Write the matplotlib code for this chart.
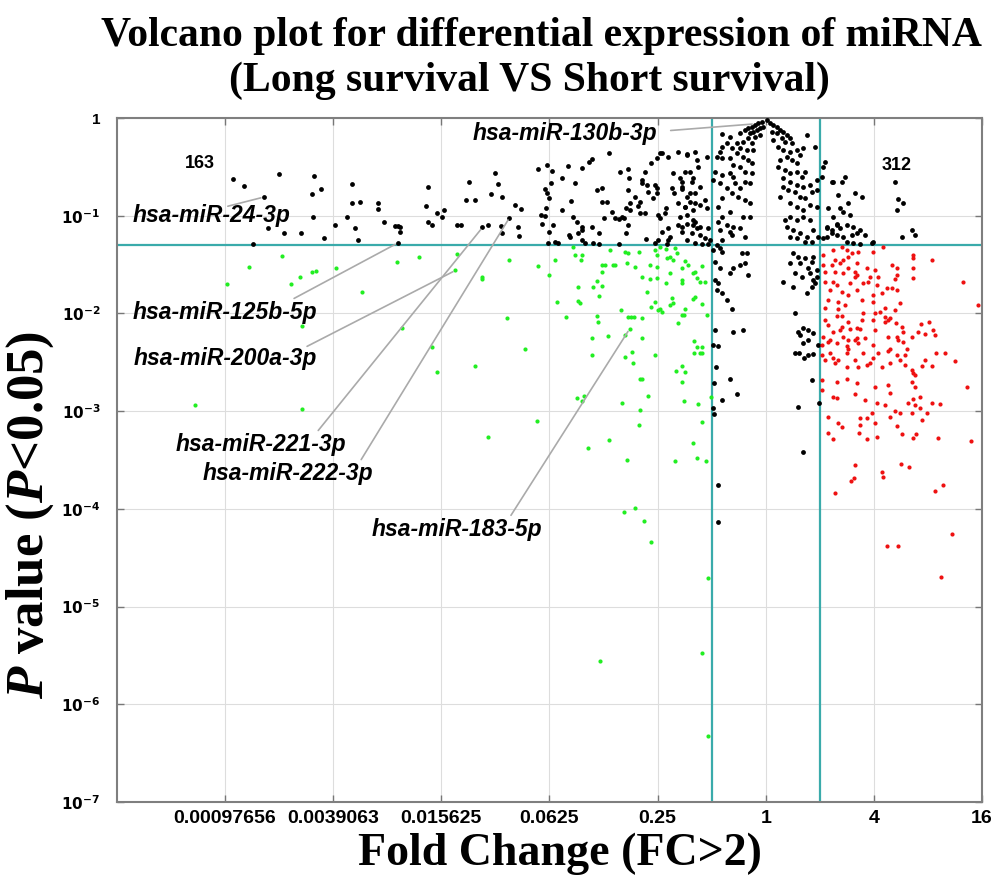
import numpy as np
import matplotlib
matplotlib.use("Agg")
import matplotlib.pyplot as plt

plt.rcParams["mathtext.fontset"] = "custom"
plt.rcParams["mathtext.it"] = "Liberation Serif:bold:italic"
plt.rcParams["mathtext.rm"] = "Liberation Serif:bold"
plt.rcParams["mathtext.bf"] = "Liberation Serif:bold"

# (log2 fold change, log10 p value)
not_significant = np.array([
    (-9.86, -0.62), (-9.66, -0.70), (-9.01, -0.57), (-8.36, -0.59), (-8.23, -0.73), (-8.40, -0.78),
    (-7.66, -0.68), (-7.66, -0.87), (-7.51, -0.86), (-7.18, -0.87), (-7.18, -0.93), (-8.38, -1.01),
    (-7.75, -1.01), (-7.07, -1.06), (-6.86, -1.11), (-6.81, -1.11), (-9.21, -1.13), (-8.92, -1.18),
    (-8.60, -1.18), (-7.96, -1.10), (-7.59, -1.13), (-8.18, -1.23), (-7.55, -1.25), (-9.49, -1.29),
    (-6.81, -1.28), (-9.29, -0.81),
    (-6.77, -1.12), (-6.77, -1.17), (-6.25, -0.71), (-6.29, -0.90), (-6.09, -0.97), (-5.96, -0.94),
    (-5.98, -1.01), (-6.25, -1.06), (-6.18, -1.09), (-5.72, -1.10), (-5.64, -1.10), (-5.49, -0.66),
    (-5.55, -0.84), (-5.38, -0.84), (-5.25, -1.12), (-5.14, -1.09), (-5.09, -0.78), (-5.00, -0.56),
    (-4.96, -0.68), (-4.88, -0.81), (-4.90, -1.11), (-4.88, -1.18), (-4.74, -1.02), (-4.64, -0.89),
    (-4.53, -0.93), (-4.59, -1.12), (-4.57, -1.21), (-4.22, -0.52), (-4.05, -0.48), (-3.96, -0.54),
    (-3.76, -0.61), (-3.66, -0.49), (-3.52, -0.67), (-3.39, -0.51), (-3.27, -0.45), (-3.22, -0.42),
    (-2.90, -0.36), (-4.09, -0.73), (-4.05, -0.77), (-3.98, -0.67), (-4.01, -0.82), (-3.61, -0.85),
    (-4.07, -0.92), (-4.16, -0.99), (-4.09, -1.00), (-4.14, -1.08), (-3.77, -0.94), (-3.94, -1.10),
    (-3.57, -1.01), (-3.50, -1.06), (-3.40, -1.12), (-3.39, -1.15), (-3.22, -1.12), (-4.01, -1.17),
    (-4.03, -1.28), (-3.90, -1.27), (-3.85, -1.28), (-3.63, -1.22), (-3.64, -1.20), (-3.48, -1.18),
    (-3.39, -1.25), (-3.35, -1.28), (-3.20, -1.28), (-3.09, -1.29), (-3.09, -1.18), (-3.13, -0.74),
    (-3.03, -0.72), (-3.03, -0.86), (-2.94, -0.86), (-3.00, -1.02), (-2.85, -0.96), (-2.78, -1.02),
    (-2.72, -1.03), (-2.66, -1.01), (-2.70, -0.55), (-2.55, -0.52), (-2.53, -0.61), (-2.55, -0.74),
    (-2.52, -0.87), (-2.59, -0.92), (-2.52, -0.94), (-2.63, -1.02), (-2.55, -1.10), (-2.59, -1.18),
    (-2.72, -1.29), (-2.41, -0.81), (-2.33, -0.86), (-2.37, -0.90), (-2.24, -0.55), (-2.28, -0.63),
    (-2.29, -0.67), (-2.20, -0.69), (-2.18, -0.76), (-2.24, -0.97), (-2.33, -0.97), (-2.22, -1.24),
    (-2.13, -0.46), (-2.02, -0.41), (-1.96, -0.36), (-2.05, -0.69), (-2.02, -0.72), (-2.02, -0.77),
    (-2.09, -0.82), (-2.00, -0.99), (-1.96, -1.02), (-1.85, -0.92), (-1.87, -0.97), (-1.91, -0.36),
    (-1.81, -0.40), (-1.63, -0.35), (-1.46, -0.37), (-1.31, -0.35), (-1.72, -0.56), (-1.59, -0.61),
    (-1.54, -0.66), (-1.41, -0.55), (-1.37, -0.66), (-1.74, -0.72), (-1.70, -0.77), (-1.54, -0.73),
    (-1.46, -0.81), (-1.31, -0.77), (-1.63, -0.87), (-1.50, -0.91), (-1.41, -0.86), (-1.31, -0.87),
    (-1.59, -1.01), (-1.46, -0.99), (-1.35, -1.04), (-1.63, -1.10), (-1.55, -1.12), (-1.35, -1.10),
    (-1.28, -1.13), (-1.81, -1.13), (-1.92, -1.17), (-1.78, -1.22), (-1.81, -1.25), (-2.00, -1.25),
    (-2.05, -1.28), (-1.83, -1.29),
    (0.02, -0.02), (-0.81, -0.16), (-0.67, -0.19), (-0.48, -0.15), (-0.39, -0.12), (-0.33, -0.10),
    (-0.26, -0.09), (-0.20, -0.07), (-0.15, -0.05), (-0.07, -0.04), (-0.30, -0.15), (-0.24, -0.14),
    (-0.17, -0.12), (-0.11, -0.10), (-0.06, -0.09), (-0.33, -0.20), (-0.20, -0.19), (-0.11, -0.17),
    (-0.26, -0.26), (-0.43, -0.25), (-0.54, -0.26), (-0.72, -0.26), (-0.80, -0.30), (-0.85, -0.35),
    (-0.63, -0.31), (-0.48, -0.31), (-0.35, -0.33), (-0.24, -0.33), (-0.54, -0.36), (-0.43, -0.40),
    (-0.33, -0.43), (-0.26, -0.46), (-0.67, -0.41), (-0.80, -0.41), (-0.91, -0.40), (-0.61, -0.48),
    (-0.48, -0.50), (-0.39, -0.55), (-0.26, -0.56), (-0.80, -0.58), (-0.67, -0.56), (-0.94, -0.55),
    (-0.98, -0.63), (-0.85, -0.67), (-0.61, -0.60), (-0.57, -0.67), (-0.48, -0.72), (-0.39, -0.66),
    (-0.30, -0.67), (-0.72, -0.72), (-0.63, -0.77), (-0.52, -0.81), (-0.39, -0.84), (-0.30, -0.87),
    (-0.80, -0.82), (-0.89, -0.91), (-0.67, -0.96), (-0.43, -1.01), (-0.30, -1.01), (-0.80, -1.01),
    (-0.72, -1.10), (-0.61, -1.12), (-0.48, -1.13), (-0.67, -1.17), (-0.89, -1.06), (-0.85, -1.15),
    (-0.63, -1.20), (-0.39, -1.22), (-0.81, -1.25),
    (0.07, -0.05), (0.13, -0.07), (0.20, -0.09), (0.26, -0.12), (0.31, -0.14), (0.39, -0.17),
    (0.44, -0.20), (0.11, -0.14), (0.20, -0.15), (0.30, -0.20), (0.35, -0.25), (0.48, -0.26),
    (0.13, -0.23), (0.22, -0.30), (0.31, -0.33), (0.44, -0.35), (0.57, -0.33), (0.63, -0.38),
    (0.39, -0.40), (0.48, -0.43), (0.57, -0.46), (0.26, -0.43), (0.22, -0.50), (0.35, -0.53),
    (0.44, -0.56), (0.57, -0.55), (0.67, -0.60), (0.72, -0.55), (0.76, -0.17), (0.91, -0.30),
    (0.68, -0.31), (0.31, -0.61), (0.44, -0.66), (0.57, -0.69), (0.68, -0.71), (0.81, -0.69),
    (0.41, -0.74), (0.54, -0.76), (0.63, -0.81), (0.72, -0.82), (0.85, -0.76), (0.94, -0.63),
    (1.04, -0.60), (1.09, -0.45), (0.31, -0.71), (0.26, -0.81), (0.44, -0.87), (0.57, -0.91),
    (0.68, -0.94), (0.81, -0.89), (0.94, -0.91), (0.35, -1.04), (0.44, -1.01), (0.57, -1.04),
    (0.68, -1.01), (0.81, -1.04), (0.39, -1.12), (0.50, -1.15), (0.63, -1.18), (0.76, -1.22),
    (0.87, -1.15), (0.96, -1.22), (0.44, -1.22), (0.57, -1.23), (0.72, -1.27), (0.85, -1.27),
    (1.05, -1.23), (1.13, -1.13), (1.22, -1.18), (1.31, -1.10), (1.24, -0.66), (1.33, -0.79),
    (1.15, -0.92), (0.94, -0.74),
    (-1.46, -0.38), (-1.28, -0.43), (-1.50, -0.55), (-1.35, -0.61), (-1.26, -0.50), (-1.09, -0.40),
    (-1.54, -0.71), (-1.41, -0.77), (-1.22, -0.71), (-1.13, -0.84), (-1.50, -0.91), (-1.35, -0.94),
    (-1.22, -0.89), (-1.09, -0.92), (-1.46, -1.08), (-1.31, -1.06), (-1.22, -1.12), (-1.07, -1.13),
    (-1.54, -1.17), (-1.37, -1.18), (-1.22, -1.20), (-1.13, -1.23), (-1.04, -1.25), (-1.46, -1.25),
    (-1.31, -1.28), (-1.18, -1.29), (-1.07, -1.29),
    (-0.91, -1.30), (-0.85, -1.33), (-0.98, -1.35), (-0.80, -1.37), (-0.94, -1.47), (-0.85, -1.53),
    (-0.67, -1.59), (-0.61, -1.53), (-0.48, -1.50), (-0.39, -1.48), (-0.33, -1.61), (-0.44, -1.38),
    (-0.35, -1.38), (-0.94, -1.66), (-0.89, -1.69), (-0.80, -1.79), (-0.72, -1.86), (-0.63, -1.95),
    (-0.91, -1.76), (-0.94, -2.17), (-0.61, -2.19), (-0.43, -2.17), (0.50, -1.38), (0.59, -1.42),
    (0.44, -1.48), (0.63, -1.48), (0.72, -1.43), (0.78, -1.53), (0.85, -1.47), (0.87, -1.42),
    (0.54, -1.59), (0.67, -1.63), (0.81, -1.59), (0.87, -1.66), (0.94, -1.63), (0.91, -1.69),
    (0.94, -1.56), (0.31, -1.68), (0.50, -1.73), (0.76, -1.79), (0.85, -1.73), (0.54, -2.00),
    (0.59, -2.19), (0.68, -2.15), (0.78, -2.17), (0.87, -2.20), (0.78, -2.27), (0.63, -2.22),
    (1.05, -0.50), (1.22, -0.66), (1.41, -0.66), (1.46, -0.60), (1.65, -0.77), (1.78, -0.81),
    (1.52, -0.87), (1.37, -0.92), (1.42, -0.96), (1.55, -0.99), (1.24, -1.01), (1.31, -1.08),
    (1.13, -1.12), (1.22, -1.15), (1.37, -1.13), (1.50, -1.10), (1.61, -1.12), (1.74, -1.15),
    (1.31, -1.20), (1.42, -1.22), (1.59, -1.20), (1.68, -1.18), (1.83, -1.20), (1.13, -1.22),
    (1.50, -1.27), (1.61, -1.28), (1.74, -1.29), (1.96, -1.28), (1.98, -1.27), (2.39, -0.66),
    (2.44, -0.83), (2.53, -0.87), (2.42, -0.94), (2.70, -1.15), (2.76, -1.20), (2.52, -1.22),
    (-0.98, -2.32), (-0.89, -2.33), (-0.92, -2.55), (-0.96, -2.71), (-0.67, -2.67), (-0.54, -2.82),
    (-0.80, -2.89), (-0.98, -2.97), (-0.96, -3.03), (0.68, -2.30), (0.54, -2.41), (0.61, -2.40),
    (0.70, -2.46), (0.78, -2.43), (0.87, -2.42), (0.96, -2.32), (0.85, -2.68), (0.98, -2.92),
    (0.59, -2.96), (0.68, -3.42), (-0.89, -3.76), (-0.89, -4.13),
])

down_regulated = np.array([
    (-8.95, -1.41), (-9.56, -1.52), (-9.97, -1.70), (-8.79, -1.70), (-8.62, -1.63), (-8.40, -1.58),
    (-8.31, -1.57), (-7.94, -1.53), (-7.46, -1.78), (-6.83, -1.47), (-8.57, -2.13), (-10.55, -2.94),
    (-8.57, -2.98), (-6.42, -1.42), (-5.72, -1.39), (-5.74, -1.56), (-5.25, -1.63), (-5.24, -1.65),
    (-4.74, -1.45), (-4.22, -1.51), (-4.01, -1.61), (-3.90, -1.45), (-3.87, -1.88), (-3.70, -2.04),
    (-4.79, -2.05), (-6.72, -2.15), (-6.18, -2.34), (-4.46, -2.36), (-6.09, -2.60), (-5.37, -2.54),
    (-4.24, -3.10), (-5.14, -3.26), (-2.63, -4.03), (-2.42, -3.99), (-2.26, -4.12), (-2.13, -4.34),
    (-1.68, -3.51), (-1.11, -3.51), (-1.07, -4.71), (-3.07, -5.56), (-1.18, -5.48), (-1.07, -6.32),
    (-1.02, -2.86),
    (-3.57, -1.32), (-3.52, -1.40), (-3.40, -1.40), (-3.42, -1.45), (-2.89, -1.35), (-2.61, -1.37),
    (-2.55, -1.38), (-2.35, -1.37), (-2.05, -1.35), (-1.96, -1.32), (-1.85, -1.34), (-1.68, -1.33),
    (-1.65, -1.38), (-2.02, -1.40), (-3.03, -1.50), (-2.98, -1.50), (-2.83, -1.50), (-2.79, -1.50),
    (-2.57, -1.48), (-2.42, -1.52), (-2.15, -1.50), (-2.02, -1.52), (-1.83, -1.43), (-1.78, -1.42),
    (-1.72, -1.45), (-1.50, -1.46), (-1.44, -1.50), (-1.18, -1.51), (-1.54, -1.53), (-3.02, -1.58),
    (-1.31, -1.58), (-1.35, -1.59), (-1.78, -1.59), (-2.28, -1.63), (-2.15, -1.65), (-2.02, -1.64),
    (-1.55, -1.66), (-1.54, -1.69), (-1.28, -1.64), (-1.22, -1.68), (-1.13, -1.68), (-3.13, -1.67),
    (-3.03, -1.72), (-3.20, -1.73), (-3.48, -1.73), (-1.85, -1.69), (-2.20, -1.78), (-3.09, -1.82),
    (-3.48, -1.87), (-3.44, -1.89), (-2.68, -1.96), (-2.13, -1.93), (-2.04, -1.88), (-1.96, -1.95),
    (-2.00, -1.97), (-1.92, -1.99), (-1.74, -1.84), (-1.72, -1.89), (-1.78, -1.91), (-1.31, -1.83),
    (-1.35, -1.85), (-1.17, -1.90), (-1.50, -1.95), (-1.52, -2.02), (-1.55, -2.02), (-1.09, -2.02),
    (-3.13, -2.03), (-3.11, -2.09), (-2.55, -2.04), (-2.50, -2.04), (-2.44, -2.04), (-2.28, -2.05),
    (-1.63, -2.10), (-2.52, -2.16), (-2.61, -2.22), (-3.22, -2.25), (-2.92, -2.23), (-2.28, -2.25),
    (-1.33, -2.28), (-1.28, -2.34), (-1.17, -2.34), (-1.33, -2.41), (-1.22, -2.41), (-1.17, -2.41),
    (-3.22, -2.43), (-2.48, -2.39), (-2.61, -2.45), (-2.05, -2.43), (-2.46, -2.51), (-1.66, -2.59),
    (-1.54, -2.54), (-1.50, -2.60), (-2.33, -2.67), (-2.28, -2.67), (-1.54, -2.70), (-2.18, -2.85),
    (-3.50, -2.87), (-3.37, -2.84), (-3.39, -2.90), (-2.65, -2.92), (-1.52, -2.90), (-1.26, -2.93),
    (-2.33, -2.99), (-2.35, -3.14), (-1.18, -3.11), (-2.90, -3.30), (-3.29, -3.38), (-1.35, -3.33),
    (-1.28, -3.48), (-2.57, -3.50),
])

up_regulated = np.array([
    (1.05, -1.40), (1.24, -1.35), (1.41, -1.32), (1.50, -1.35), (1.59, -1.38), (1.70, -1.37),
    (1.52, -1.42), (1.42, -1.45), (1.28, -1.45), (1.98, -1.37), (2.16, -1.32), (2.72, -1.40),
    (2.72, -1.43), (3.07, -1.45), (1.05, -1.50), (1.22, -1.50), (1.37, -1.48), (1.52, -1.53),
    (1.68, -1.48), (1.87, -1.53), (2.02, -1.56), (2.33, -1.50), (2.42, -1.54), (2.72, -1.53),
    (1.09, -1.58), (1.28, -1.58), (1.42, -1.59), (1.65, -1.58), (1.68, -1.61), (1.65, -1.63),
    (1.92, -1.63), (2.07, -1.63), (2.42, -1.61), (2.72, -1.64), (2.39, -1.65), (1.09, -1.68),
    (1.24, -1.68), (1.31, -1.71), (1.55, -1.69), (1.79, -1.69), (1.89, -1.68), (2.05, -1.71),
    (2.24, -1.74), (2.33, -1.74), (2.42, -1.76), (3.64, -1.68), (1.18, -1.76), (1.41, -1.78),
    (1.52, -1.81), (1.68, -1.76), (1.78, -1.86), (1.98, -1.81), (2.15, -1.79), (1.15, -1.86),
    (1.33, -1.88), (1.46, -1.91), (1.09, -1.94), (1.33, -1.95), (1.98, -1.88), (2.20, -1.94),
    (2.39, -1.97), (2.48, -1.89), (3.92, -1.91), (1.79, -2.00), (2.02, -2.00), (2.11, -1.99),
    (1.31, -2.03), (1.41, -2.03), (2.20, -2.04), (2.29, -2.05), (1.09, -2.07), (1.52, -2.09),
    (1.78, -2.07), (1.98, -2.07), (2.20, -2.09), (2.26, -2.07), (2.41, -2.10), (2.87, -2.11),
    (3.02, -2.09), (1.15, -2.12), (1.41, -2.14), (1.68, -2.15), (1.74, -2.16), (2.52, -2.14),
    (3.09, -2.17), (1.24, -2.19), (1.37, -2.17), (1.55, -2.16), (2.02, -2.17), (2.53, -2.19),
    (2.81, -2.19), (2.94, -2.21), (3.13, -2.22), (1.05, -2.24), (1.42, -2.24), (1.68, -2.25),
    (2.26, -2.24), (2.42, -2.24), (2.70, -2.24), (1.18, -2.27), (1.52, -2.27), (1.65, -2.27),
    (1.83, -2.25), (2.44, -2.27), (2.53, -2.29), (1.04, -2.32), (1.15, -2.29), (1.31, -2.30),
    (1.50, -2.33), (1.70, -2.30), (1.98, -2.32), (2.29, -2.36), (2.61, -2.36), (1.52, -2.36),
    (1.50, -2.40), (1.18, -2.41), (1.79, -2.41), (2.07, -2.40), (2.26, -2.38), (3.15, -2.40),
    (3.31, -2.40), (1.24, -2.46), (1.09, -2.48), (1.33, -2.48), (1.65, -2.48), (1.98, -2.46),
    (2.42, -2.43), (2.57, -2.43), (1.04, -2.43), (1.28, -2.51), (1.92, -2.51), (2.48, -2.48),
    (2.94, -2.48), (3.50, -2.49), (1.50, -2.55), (1.70, -2.55), (1.87, -2.53), (2.15, -2.55),
    (2.29, -2.51), (2.57, -2.53), (2.89, -2.54), (3.07, -2.54), (2.70, -2.58), (2.76, -2.63),
    (2.72, -2.61), (1.04, -2.68), (1.31, -2.70), (1.50, -2.67), (1.68, -2.71), (2.02, -2.75),
    (2.26, -2.73), (2.70, -2.70), (2.76, -2.75), (3.72, -2.75), (1.04, -2.78), (1.65, -2.82),
    (1.24, -2.86), (1.31, -2.87), (2.29, -2.81), (2.85, -2.86), (1.83, -2.89), (2.05, -2.92),
    (2.20, -2.94), (2.63, -2.92), (2.72, -2.88), (2.76, -2.94), (3.07, -2.92), (3.22, -2.93),
    (2.85, -2.97), (1.96, -3.02), (2.39, -3.00), (2.48, -3.02), (2.70, -3.02), (2.98, -3.02),
    (1.15, -3.06), (1.74, -3.07), (1.87, -3.07), (2.29, -3.06), (2.89, -3.09), (1.33, -3.12),
    (2.02, -3.12), (2.42, -3.15), (1.74, -3.14), (1.41, -3.16), (1.24, -3.28), (1.15, -3.22),
    (1.72, -3.22), (1.87, -3.28), (2.05, -3.26), (2.52, -3.23), (2.72, -3.27), (2.77, -3.23),
    (3.18, -3.27), (3.79, -3.31), (1.66, -3.55), (1.63, -3.68), (1.57, -3.72), (2.15, -3.62),
    (2.16, -3.67), (2.50, -3.54), (2.65, -3.57), (1.28, -3.84), (3.13, -3.82), (3.27, -3.76),
    (3.44, -4.26), (2.24, -4.38), (2.44, -4.38), (3.24, -4.70),
])

x_ticks_log2 = [-10, -8, -6, -4, -2, 0, 2, 4]
x_tick_labels = ["0.00097656", "0.0039063", "0.015625", "0.0625", "0.25", "1", "4", "16"]
y_ticks_log10 = [0, -1, -2, -3, -4, -5, -6, -7]
fc_cutoffs = [0.5, 2]
p_cutoff = 0.05
n_down, n_up = 163, 312

ann_labels = ["hsa-miR-130b-3p", "hsa-miR-24-3p", "hsa-miR-125b-5p", "hsa-miR-200a-3p",
              "hsa-miR-221-3p", "hsa-miR-222-3p", "hsa-miR-183-5p"]
ann_targets = [(-0.20, -0.06), (-9.29, -0.81), (-6.81, -1.28), (-5.74, -1.56),
               (-5.24, -1.12), (-4.74, -1.02), (-2.52, -2.16)]
ann_line_start = [(-1.81, -0.13), (-10.0, -0.91), (-8.77, -1.86), (-8.53, -2.35),
                  (-8.31, -3.22), (-7.51, -3.52), (-4.74, -4.09)]
ann_text_pos = [(-3.72, -0.16), (-10.25, -1.00), (-10.0, -1.99), (-9.99, -2.46),
                (-9.34, -3.34), (-8.84, -3.64), (-5.72, -4.21)]

teal = "#3aabab"

fig = plt.figure(figsize=(9.95, 8.8), dpi=100)
ax = fig.add_axes([117 / 995, 1 - 802 / 880, 865 / 995, 684 / 880])

ax.set_xscale("log", base=2)
ax.set_yscale("log")
ax.set_xlim(2.0 ** -12, 2.0 ** 4)
ax.set_ylim(1e-7, 1)

for pts, col, size in [(not_significant, "black", 12),
                       (down_regulated, "#22ee22", 9),
                       (up_regulated, "#ee1111", 9)]:
    ax.scatter(2.0 ** pts[:, 0], 10.0 ** pts[:, 1], s=size, c=col, linewidths=0, zorder=3)

for fc in fc_cutoffs:
    ax.axvline(fc, color=teal, lw=1.6, zorder=2)
ax.axhline(p_cutoff, color=teal, lw=1.6, zorder=2)

ax.set_xticks([2.0 ** t for t in x_ticks_log2])
ax.set_xticklabels(x_tick_labels)
ax.set_yticks([10.0 ** t for t in y_ticks_log10])
ax.set_yticklabels(["1" if t == 0 else r"$\mathbf{10^{%d}}$" % t for t in y_ticks_log10])
ax.minorticks_off()
ax.tick_params(direction="in", length=5, width=1, color="#777777", top=True, right=True,
               labelsize=14)
ax.tick_params(axis="x", pad=6)
ax.tick_params(axis="y", pad=12, labelsize=11)
for lab in ax.get_xticklabels() + ax.get_yticklabels():
    lab.set_fontfamily("Liberation Sans")
    lab.set_fontweight("bold")
for lab in ax.get_yticklabels():
    lab.set_math_fontfamily("dejavusans")
    lab.set_ha("right")
ax.grid(True, color="#dddddd", lw=0.8, zorder=0)
for sp in ax.spines.values():
    sp.set_color("#7f7f7f")
    sp.set_linewidth(1.5)

for lab, tgt, start, tpos in zip(ann_labels, ann_targets, ann_line_start, ann_text_pos):
    ax.annotate("", xy=(2.0 ** tgt[0], 10.0 ** tgt[1]), xytext=(2.0 ** start[0], 10.0 ** start[1]),
                arrowprops=dict(arrowstyle="-", color="#aaaaaa", lw=1.2), zorder=4)
    ax.text(2.0 ** tpos[0], 10.0 ** tpos[1], lab, ha="center", va="center", fontsize=16.5,
            fontfamily="Liberation Sans", fontweight="bold", fontstyle="italic", zorder=5)

ax.text(2.0 ** -10.47, 10.0 ** -0.47, str(n_down), ha="center", va="center", fontsize=13,
        fontfamily="Liberation Sans", fontweight="bold")
ax.text(2.0 ** 2.42, 10.0 ** -0.49, str(n_up), ha="center", va="center", fontsize=13,
        fontfamily="Liberation Sans", fontweight="bold")

fig.text(541 / 995, 1 - 36 / 880, "Volcano plot for differential expression of miRNA",
         ha="center", va="center", fontsize=30, fontfamily="Liberation Serif", fontweight="bold")
fig.text(529 / 995, 1 - 81 / 880, "(Long survival VS Short survival)",
         ha="center", va="center", fontsize=30, fontfamily="Liberation Serif", fontweight="bold")

ax.text(0.512, -0.075, "Fold Change (FC>2)", transform=ax.transAxes, ha="center", va="center",
        fontsize=33, fontfamily="Liberation Serif", fontweight="bold")
ax.text(-0.100, 0.42, r"$P$ value ($P$<0.05)", transform=ax.transAxes, ha="center",
        va="center", rotation=90, fontsize=38, fontfamily="Liberation Serif", fontweight="bold")

fig.savefig("out.png", dpi=100)
